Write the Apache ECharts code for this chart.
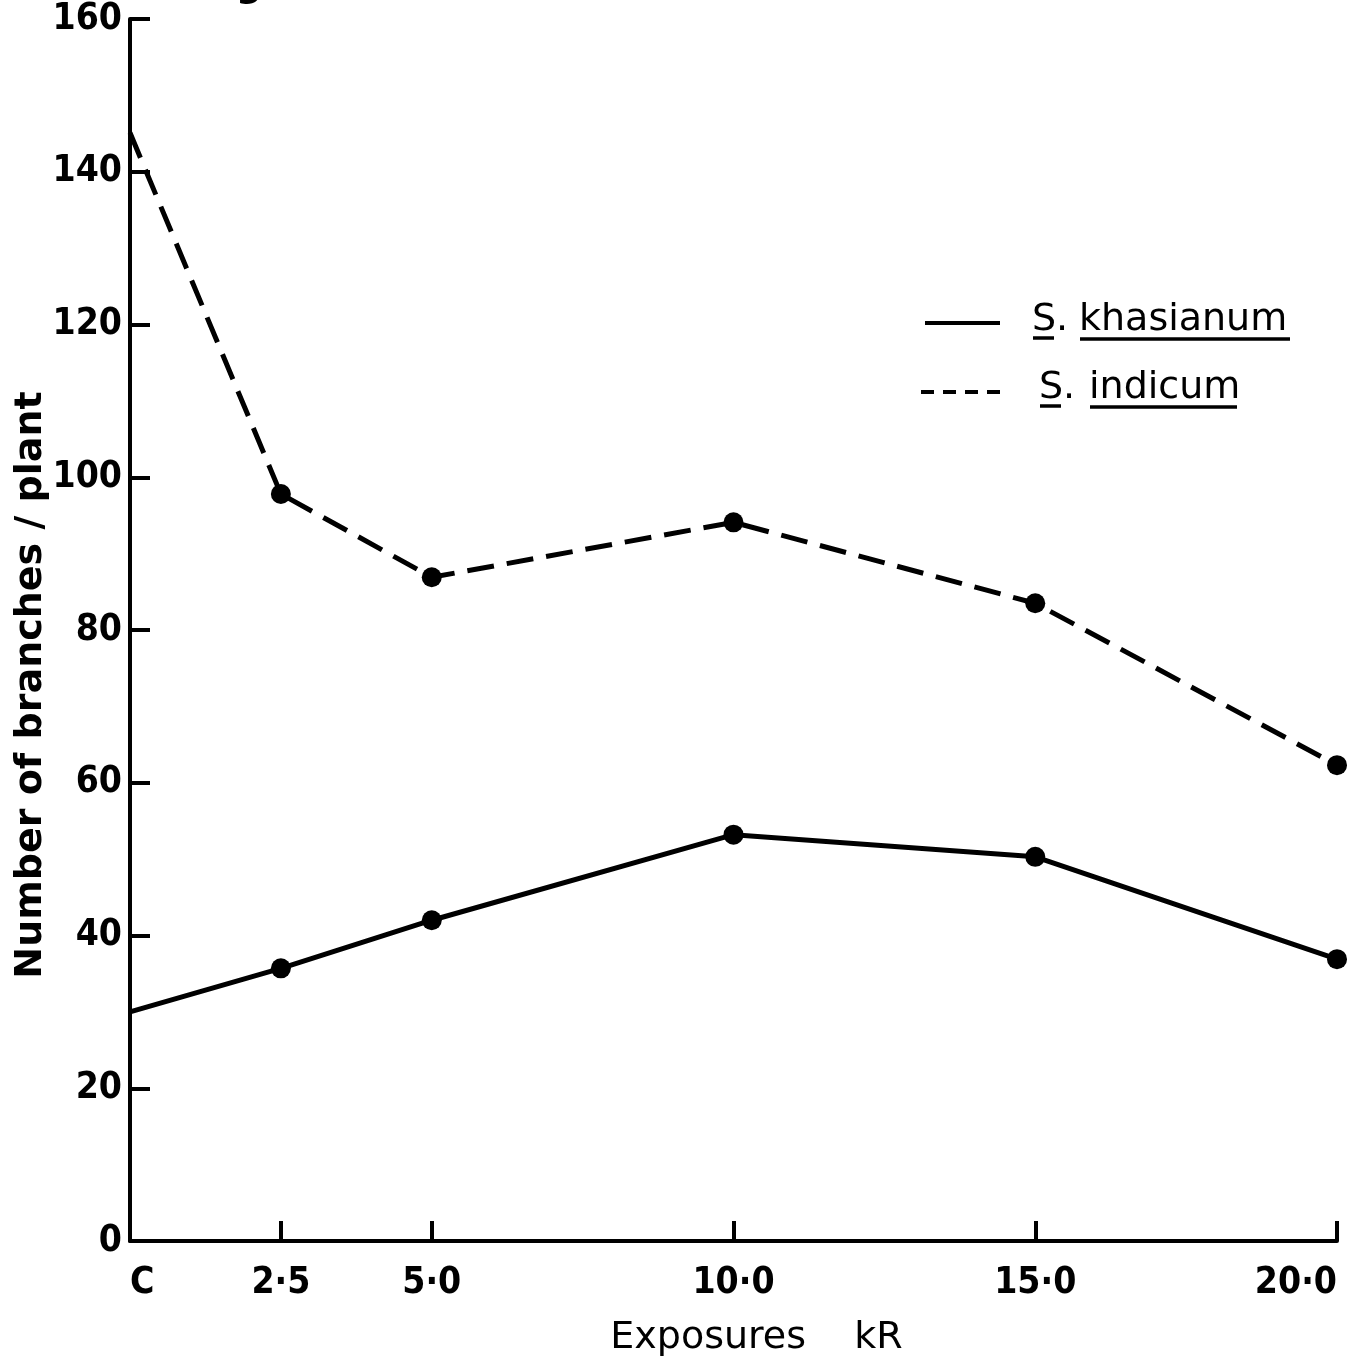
<!DOCTYPE html>
<html>
<head>
<meta charset="utf-8">
<script src="https://cdn.jsdelivr.net/npm/echarts@6/dist/echarts.min.js"></script>
<style>html,body{margin:0;padding:0;background:#fff;}#c{width:1370px;height:1364px;}</style>
</head>
<body>
<div id="c"></div>
<script>
// Exposure values (kR); C = control at 0
const exposures = [0, 2.5, 5, 10, 15, 20];
const exposureLabels = ['C', '2·5', '5·0', '10·0', '15·0', '20·0'];
const khasianum = [30.0, 35.7, 42.0, 53.2, 50.3, 36.9];
const indicum = [145.1, 97.8, 86.9, 94.1, 83.5, 62.3];
const seriesNames = ['S. khasianum', 'S. indicum'];

const chart = echarts.init(document.getElementById('c'), null, {renderer: 'canvas'});
const labelFont = '"DejaVu Sans Condensed", "Liberation Sans Narrow", "DejaVu Sans", sans-serif';
const nameFont = '"DejaVu Sans", sans-serif';

function toData(vals) {
  return exposures.map((x, i) => i === 0 ? {value: [x, vals[i]], symbol: 'none'} : [x, vals[i]]);
}

const option = {
  backgroundColor: '#fff',
  animation: false,
  grid: {left: 130, right: 33, top: 19, bottom: 123, outerBoundsMode: 'none', containLabel: false},
  xAxis: {
    type: 'value', min: 0, max: 20,
    name: 'Exposures    kR', nameLocation: 'middle', nameGap: 78, nameMoveOverlap: false,
    nameTextStyle: {fontFamily: nameFont, fontSize: 38, color: '#000', padding: [0, 0, 0, 46]},
    axisLine: {lineStyle: {color: '#000', width: 4}},
    axisTick: {show: true, inside: true, length: 20, lineStyle: {color: '#000', width: 4}, customValues: exposures},
    axisLabel: {
      customValues: exposures, margin: 24,
      alignMinLabel: 'left', alignMaxLabel: 'right',
      fontFamily: labelFont, fontWeight: 'bold', fontSize: 37, color: '#000',
      formatter: v => exposureLabels[exposures.indexOf(v)]
    },
    splitLine: {show: false}
  },
  yAxis: {
    type: 'value', min: 0, max: 160, interval: 20,
    name: 'Number of branches / plant', nameLocation: 'middle', nameGap: 80, nameRotate: 90, nameMoveOverlap: false,
    nameTextStyle: {fontFamily: nameFont, fontSize: 38, fontWeight: 'bold', color: '#000', padding: [0, 110, 0, 0]},
    axisLine: {show: true, lineStyle: {color: '#000', width: 4}},
    axisTick: {show: true, inside: true, length: 20, lineStyle: {color: '#000', width: 4}},
    axisLabel: {fontFamily: labelFont, fontWeight: 'bold', fontSize: 37, color: '#000', margin: 8},
    splitLine: {show: false}
  },
  series: [
    {
      name: seriesNames[0], type: 'line', data: toData(khasianum),
      symbol: 'circle', symbolSize: 20, showAllSymbol: true,
      itemStyle: {color: '#000'},
      lineStyle: {color: '#000', width: 5, type: 'solid'}
    },
    {
      name: seriesNames[1], type: 'line', data: toData(indicum),
      symbol: 'circle', symbolSize: 20, showAllSymbol: true,
      itemStyle: {color: '#000'},
      lineStyle: {color: '#000', width: 5, type: [27, 13]}
    }
  ],
  graphic: [
    // partial caption cut off at top
    {type: 'text', left: 199, top: -30, style: {text: 'Fig', font: 'bold 36px "DejaVu Sans"', fill: '#000'}},
    // legend: solid
    {type: 'line', shape: {x1: 925, y1: 323, x2: 1000, y2: 323}, style: {stroke: '#000', lineWidth: 4}},
    {type: 'text', x: 1032, y: 320, style: {text: 'S.', font: '38px "DejaVu Sans"', fill: '#000', verticalAlign: 'middle'}},
    {type: 'text', x: 1079, y: 320, style: {text: 'khasianum', font: '38px "DejaVu Sans"', fill: '#000', verticalAlign: 'middle'}},
    {type: 'line', shape: {x1: 1033, y1: 338, x2: 1054, y2: 338}, style: {stroke: '#000', lineWidth: 3.5}},
    {type: 'line', shape: {x1: 1080, y1: 339, x2: 1290, y2: 339}, style: {stroke: '#000', lineWidth: 3.5}},
    // legend: dashed
    {type: 'line', shape: {x1: 921, y1: 392, x2: 1000, y2: 392}, style: {stroke: '#000', lineWidth: 4, lineDash: [13, 9]}},
    {type: 'text', x: 1039, y: 388, style: {text: 'S.', font: '38px "DejaVu Sans"', fill: '#000', verticalAlign: 'middle'}},
    {type: 'text', x: 1089, y: 388, style: {text: 'indicum', font: '38px "DejaVu Sans"', fill: '#000', verticalAlign: 'middle'}},
    {type: 'line', shape: {x1: 1040, y1: 406, x2: 1061, y2: 406}, style: {stroke: '#000', lineWidth: 3.5}},
    {type: 'line', shape: {x1: 1090, y1: 407, x2: 1237, y2: 407}, style: {stroke: '#000', lineWidth: 3.5}}
  ]
};
chart.setOption(option);
</script>
</body>
</html>
